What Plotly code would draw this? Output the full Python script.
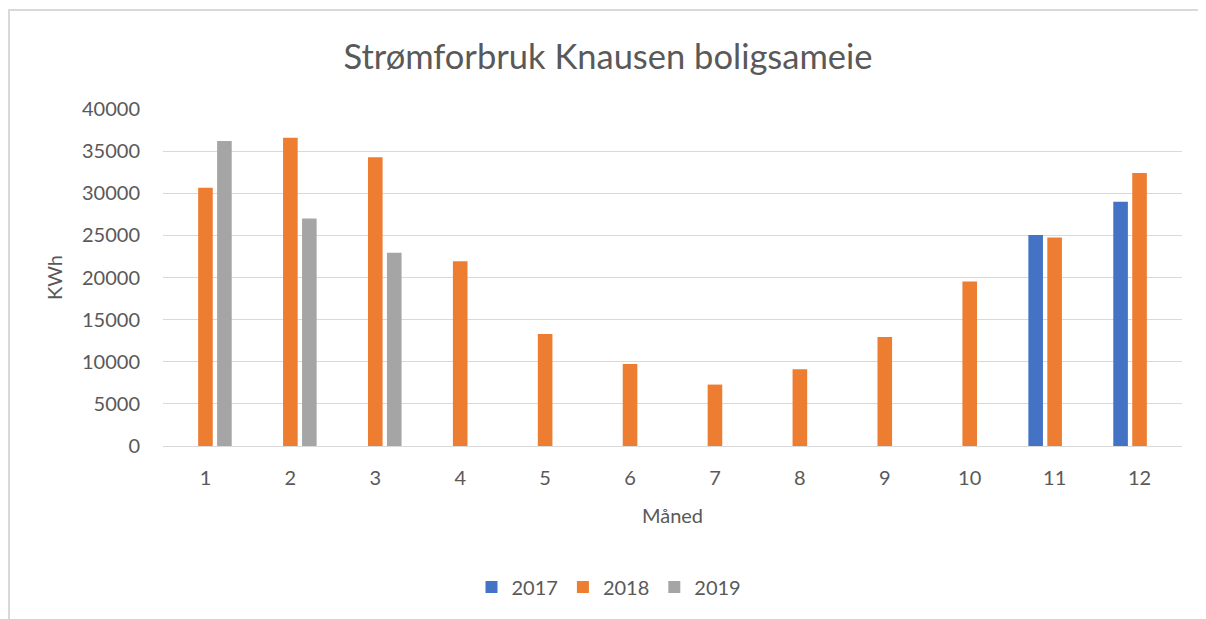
import plotly.graph_objects as go

months = ["1", "2", "3", "4", "5", "6", "7", "8", "9", "10", "11", "12"]
v2017 = [None, None, None, None, None, None, None, None, None, None, 25030, 28990]
v2018 = [30650, 36590, 34260, 21940, 13300, 9740, 7290, 9110, 12950, 19530, 24760, 32400]
v2019 = [36200, 27000, 22930, None, None, None, None, None, None, None, None, None]
series_names = ["2017", "2018", "2019"]
colors = ["#4472C4", "#ED7D31", "#A5A5A5"]
y_ticks = [0, 5000, 10000, 15000, 20000, 25000, 30000, 35000, 40000]
y_ticktext = ["0", "5000", "10000", "15000", "20000", "25000", "30000", "35000", "40000"]

FONT = "Lato"
TXT = "#595959"

fig = go.Figure()
for name, vals, col in zip(series_names, [v2017, v2018, v2019], colors):
    fig.add_trace(go.Bar(x=months, y=vals, name=name, marker_color=col,
                         marker_line_width=0))

OFF = 8  # page body margin
W, H = 1206 - OFF, 619 - OFF
L, R, T, B = 163 - OFF, 1182 - OFF, 109 - OFF, 446 - OFF

def px_x(px):
    return (px - OFF - L) / (R - L)

def px_y(py):
    return (B - (py - OFF)) / (B - T)

fig.update_layout(
    width=W, height=H,
    margin=dict(l=L, r=W - R, t=T, b=H - B, autoexpand=False),
    paper_bgcolor="white", plot_bgcolor="white",
    barmode="group", bargap=0.33, bargroupgap=0.23,
    font=dict(family=FONT, color=TXT, size=20),
    title=dict(text="Strømforbruk Knausen boligsameie", x=(608 - OFF) / W, xref="container",
               y=1 - (57 - OFF) / H, yref="container", xanchor="center", yanchor="middle",
               font=dict(family=FONT, size=34.5, color=TXT)),
    legend=dict(orientation="h", x=(609 - OFF) / W, xref="container", xanchor="center",
                y=1 - (587 - OFF) / H, yref="container", yanchor="middle",
                font=dict(size=20, color=TXT), itemwidth=30, traceorder="normal"),
    xaxis=dict(type="category", showgrid=False, showline=True, linecolor="#D9D9D9",
               linewidth=1, ticks="", ticklabelstandoff=14,
               tickfont=dict(size=20, color=TXT),
               title=dict(text="Måned", font=dict(size=20, color=TXT), standoff=20)),
    yaxis=dict(range=[0, 40000], tickvals=y_ticks, ticktext=y_ticktext,
               showgrid=True, gridcolor="#D9D9D9",
               gridwidth=1, zeroline=False, showline=False, ticks="",
               ticklabelstandoff=22, tickfont=dict(size=20, color=TXT),
               title=dict(text="KWh", font=dict(size=20, color=TXT), standoff=14)),
    shapes=[
        dict(type="line", xref="paper", yref="paper", x0=px_x(8), x1=px_x(1206),
             y0=px_y(10), y1=px_y(10), line=dict(color="#D9D9D9", width=2)),
        dict(type="line", xref="paper", yref="paper", x0=px_x(9), x1=px_x(9),
             y0=px_y(10), y1=px_y(619), line=dict(color="#D9D9D9", width=2)),
    ],
)

fig.write_html("out.html")
